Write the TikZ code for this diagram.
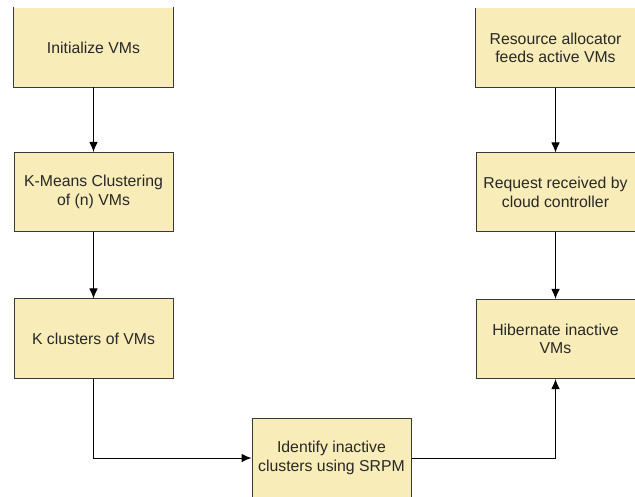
\documentclass[tikz,border=0pt]{standalone}
\usepackage{fontspec}
\setmainfont{Liberation Sans}
\usetikzlibrary{arrows.meta,positioning}
\definecolor{boxfill}{RGB}{248,236,184}
\definecolor{boxline}{RGB}{58,58,58}
\definecolor{txt}{RGB}{40,40,40}

\begin{document}
\begin{tikzpicture}[x=1pt,y=-1pt,>={Latex[length=10pt,width=8.5pt]},
 every node/.style={font=\fontsize{15.8}{18.5}\selectfont,text=txt},
 box/.style={draw=boxline,line width=1pt,fill=boxfill,align=center,minimum width=159pt,minimum height=79pt,inner sep=2pt},
 topbox/.style={box,draw=none}]
\useasboundingbox (0,0) rectangle (635,497);
\node[topbox] (init) at (93.5,47.5) {Initialize VMs};
\node[box] (kmeans) at (93.5,192) {K-Means Clustering\\of (n) VMs};
\node[box] (kclust) at (93.5,338.5) {K clusters of VMs};
\node[topbox] (res) at (555.5,48) {Resource allocator\\feeds active VMs};
\node[box] (req) at (555.5,192.5) {Request received by\\cloud controller};
\node[box] (hib) at (555.5,339) {Hibernate inactive\\VMs};
\node[box,minimum height=80pt] (ident) at (331.5,458) {Identify inactive\\clusters using SRPM};
% top boxes are cut at the page edge
\draw[boxline,line width=1pt] (init.north west) -- (init.south west) -- (init.south east) -- (init.north east);
\draw[boxline,line width=1pt] (res.north west) -- (res.south west) -- (res.south east) -- (res.north east);
\draw[->,line width=1pt] (init) -- (kmeans);\draw[->,line width=1pt] (kmeans) -- (kclust);
\draw[->,line width=1pt] (res) -- (req);\draw[->,line width=1pt] (req) -- (hib);
\draw[->,line width=1pt] (kclust.south) |- (ident.west);
\draw[->,line width=1pt] (ident.east) -| (hib.south);
\end{tikzpicture}
\end{document}
